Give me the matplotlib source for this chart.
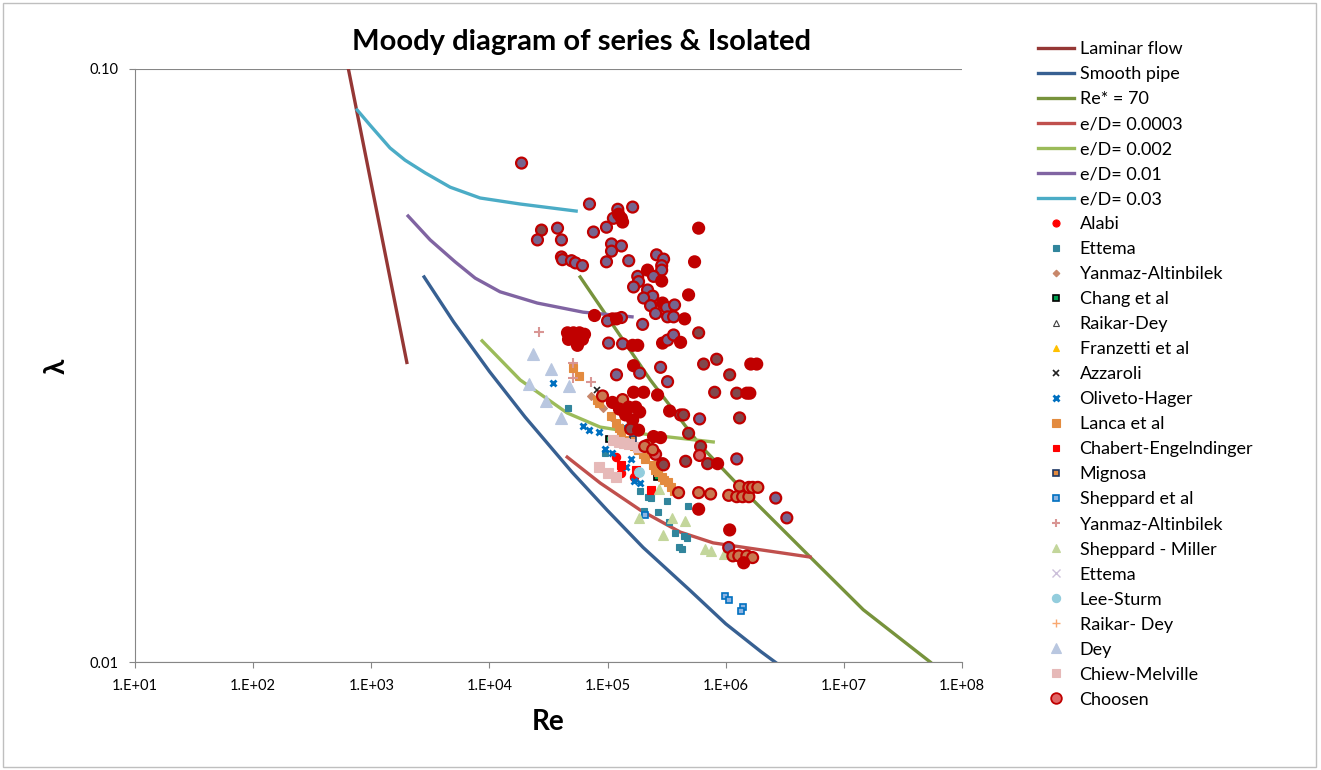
import matplotlib.pyplot as plt
from matplotlib.lines import Line2D
from matplotlib.patches import Rectangle
import numpy as np

plt.rcParams['font.family'] = ['Lato', 'DejaVu Sans']

# ---- reference curves (Re, lambda) ----
laminar_re = [600, 1000, 2000]
laminar_f = [0.1067, 0.064, 0.032]
smooth_re = [2800, 5000, 1e4, 2e4, 5e4, 1e5, 2e5, 5e5, 1e6, 2e6, 3e6]
smooth_f = [0.0446, 0.0374, 0.0309, 0.0259, 0.0209, 0.0180, 0.0156, 0.0132, 0.0116, 0.0104, 0.0098]
re70_re = [5.86e4, 2.30e5, 6.08e5, 1.33e6, 5.19e6, 1.46e7, 5.38e7]
re70_f = [0.0446, 0.0299, 0.0232, 0.0197, 0.01503, 0.01225, 0.0100]
ed0003_re = [4.55e4, 8.65e4, 1.89e5, 4.12e5, 7.84e5, 5.19e6]
ed0003_f = [0.02216, 0.02004, 0.01804, 0.01656, 0.01588, 0.01503]
ed002_re = [8.67e3, 1.82e4, 4.55e4, 8.65e4, 2.30e5, 7.84e5]
ed002_f = [0.0348, 0.0299, 0.0263, 0.0249, 0.02415, 0.0235]
ed01_re = [2.05e3, 3.15e3, 5.12e3, 7.57e3, 1.23e4, 2.54e4, 6.21e4, 1.61e5]
ed01_f = [0.0565, 0.0515, 0.0473, 0.0444, 0.0421, 0.0403, 0.0389, 0.0382]
ed03_re = [759, 977, 1.44e3, 1.93e3, 2.86e3, 4.65e3, 8.34e3, 1.82e4, 5.42e4]
ed03_f = [0.0853, 0.0804, 0.0736, 0.0702, 0.0668, 0.0632, 0.0606, 0.0592, 0.0576]

# ---- data series ----
alabi_re = [1.19e5, 1.31e5, 1.66e5]
alabi_f = [0.0222, 0.0208, 0.0205]
ettema_re = [4.58e4, 9.42e4, 1.87e5, 2.18e5, 2.31e5, 3.16e5, 4.76e5, 2.02e5, 2.65e5,
             3.29e5, 3.69e5, 4.40e5, 4.67e5, 3.99e5, 4.23e5]
ettema_f = [0.0268, 0.0225, 0.0194, 0.0190, 0.0189, 0.0187, 0.0183, 0.0180, 0.0179,
            0.0172, 0.0165, 0.0163, 0.0162, 0.0156, 0.0155]
yanmaz_re = [7.17e4, 9.06e4, 1.06e5]
yanmaz_f = [0.0281, 0.0268, 0.0259]
chang_re = [1.02e5, 2.60e5]
chang_f = [0.0238, 0.0205]
raikar_re = []
raikar_f = []
franzetti_re = []
franzetti_f = []
azzaroli_re = [8.06e4]
azzaroli_f = [0.0287]
oliveto_re = [3.42e4, 6.25e4, 7.03e4, 8.38e4, 9.60e4, 1.10e5, 1.37e5, 1.57e5, 1.42e5, 1.66e5, 1.87e5]
oliveto_f = [0.0296, 0.0250, 0.0246, 0.0244, 0.0229, 0.0225, 0.0249, 0.0220, 0.0213, 0.0202, 0.0200]
lanca_re = [5.14e4, 5.78e4, 8.21e4, 8.54e4, 1.06e5, 1.17e5, 1.24e5, 1.29e5, 1.42e5, 1.57e5, 1.66e5,
            1.80e5, 1.98e5, 2.06e5, 2.41e5, 2.50e5, 2.65e5, 2.87e5, 2.98e5, 3.22e5, 3.42e5, 3.62e5]
lanca_f = [0.0313, 0.0304, 0.0277, 0.0273, 0.0260, 0.0253, 0.0248, 0.0243, 0.0237, 0.0234, 0.0231,
           0.0228, 0.0224, 0.0220, 0.0215, 0.0211, 0.0209, 0.0205, 0.0203, 0.0201, 0.0197, 0.0194]
chabert_re = [1.29e5, 1.73e5, 2.31e5]
chabert_f = [0.0215, 0.0211, 0.0195]
mignosa_re = [1.63e5]
mignosa_f = [0.0238]
sheppard_re = [2.06e5, 9.79e5, 1.06e6, 1.39e6, 1.34e6]
sheppard_f = [0.0177, 0.0129, 0.0127, 0.0124, 0.0122]
yanmaz2_re = [2.65e4, 5.05e4, 5.05e4, 7.17e4]
yanmaz2_f = [0.0360, 0.0319, 0.0301, 0.0297]
shepmil_re = [2.70e5, 1.83e5, 3.48e5, 4.49e5, 2.92e5, 6.63e5, 7.45e5, 9.60e5]
shepmil_f = [0.0196, 0.0175, 0.0175, 0.0173, 0.0164, 0.0155, 0.0154, 0.0152]
ettema2_re = []
ettema2_f = []
leesturm_re = [1.83e5]
leesturm_f = [0.0209]
raikar2_re = []
raikar2_f = []
dey_re = [2.36e4, 3.35e4, 4.67e4, 2.18e4, 3.04e4, 4.07e4]
dey_f = [0.0331, 0.0312, 0.0292, 0.0294, 0.0275, 0.0258]
chiew_re = [1.12e5, 1.24e5, 1.37e5, 1.51e5, 1.80e5, 8.38e4, 1.00e5, 1.17e5]
chiew_f = [0.0237, 0.0235, 0.0234, 0.0233, 0.0230, 0.0213, 0.0208, 0.0205]

choosen_re = [1.87e4, 7.03e4, 1.22e5, 1.63e5, 1.12e5, 1.24e5, 1.31e5, 1.34e5, 3.77e4, 2.76e4,
              2.55e4, 4.07e4, 7.60e4, 9.79e4, 1.08e5, 1.31e5, 1.08e5, 4.07e4, 4.15e4, 4.95e4,
              5.35e4, 6.13e4, 9.79e4, 1.51e5, 2.60e5, 2.98e5, 2.18e5, 2.87e5, 2.87e5, 1.80e5,
              2.45e5, 2.87e5, 1.83e5, 1.66e5, 2.18e5, 2.41e5, 2.02e5, 2.31e5, 2.92e5, 3.16e5,
              3.69e5, 2.55e5, 3.22e5, 3.62e5, 4.49e5, 4.85e5, 5.90e5, 5.45e5, 5.90e5, 1.98e5,
              7.75e4, 1.10e5, 1.00e5, 1.31e5, 1.19e5, 4.58e4, 5.14e4, 5.78e4, 6.38e4, 4.67e4,
              5.35e4, 6.13e4, 5.56e4, 1.02e5, 1.34e5, 1.63e5, 1.80e5, 2.92e5, 3.22e5, 3.62e5,
              4.15e5, 1.19e5, 1.66e5, 1.87e5, 2.81e5, 3.22e5, 6.50e5, 8.38e5, 1.08e6, 1.63e6,
              1.83e6, 2.65e5, 8.06e5, 1.24e6, 1.51e6, 1.60e6, 3.35e5, 4.15e5, 4.40e5, 6.01e5,
              1.31e6, 4.85e5, 2.45e5, 2.81e5, 6.13e5, 6.01e5, 2.55e5, 2.92e5, 4.58e5, 7.03e5,
              8.54e5, 1.24e6, 3.99e5, 5.90e5, 7.45e5, 1.06e6, 1.24e6, 1.39e6, 1.57e6, 1.31e6,
              1.57e6, 1.69e6, 1.87e6, 2.65e6, 3.29e6, 5.90e5, 1.08e6, 1.06e6, 1.15e6, 1.29e6,
              1.51e6, 1.69e6, 1.42e6, 9.06e4, 1.10e5, 1.34e5, 1.26e5, 1.51e5, 1.73e5, 1.42e5,
              1.63e5, 1.87e5, 1.57e5, 1.83e5, 1.66e5, 2.02e5, 2.18e5, 2.06e5, 2.41e5, 2.98e5]
choosen_f = [0.0694, 0.0592, 0.0580, 0.0585, 0.0560, 0.0569, 0.0560, 0.0552, 0.0539, 0.0535,
             0.0515, 0.0515, 0.0531, 0.0541, 0.0507, 0.0503, 0.0493, 0.0482, 0.0477, 0.0475,
             0.0471, 0.0466, 0.0473, 0.0475, 0.0486, 0.0478, 0.0458, 0.0466, 0.0458, 0.0447,
             0.0447, 0.0439, 0.0438, 0.0429, 0.0424, 0.0414, 0.0411, 0.0399, 0.0403, 0.0396,
             0.0400, 0.0387, 0.0382, 0.0382, 0.0379, 0.0416, 0.0539, 0.0473, 0.0359, 0.0371,
             0.0384, 0.0379, 0.0376, 0.0381, 0.0379, 0.0359, 0.0359, 0.0359, 0.0357, 0.0350,
             0.0349, 0.0350, 0.0342, 0.0345, 0.0344, 0.0342, 0.0342, 0.0345, 0.0349, 0.0356,
             0.0346, 0.0305, 0.0316, 0.0307, 0.0314, 0.0297, 0.0318, 0.0324, 0.0305, 0.0318,
             0.0318, 0.0282, 0.0285, 0.0284, 0.0284, 0.0284, 0.0265, 0.0261, 0.0261, 0.0257,
             0.0258, 0.0243, 0.0240, 0.0239, 0.0231, 0.0223, 0.0224, 0.0216, 0.0218, 0.0216,
             0.0216, 0.0220, 0.0193, 0.0193, 0.0192, 0.0191, 0.0190, 0.0190, 0.0190, 0.0198,
             0.0197, 0.0197, 0.0197, 0.0189, 0.0175, 0.0181, 0.0167, 0.0156, 0.0151, 0.0151,
             0.0151, 0.0150, 0.0147, 0.0281, 0.0274, 0.0277, 0.0267, 0.0269, 0.0269, 0.0261,
             0.0256, 0.0264, 0.0247, 0.0246, 0.0285, 0.0285, 0.0232, 0.0231, 0.0228, 0.0215]
# what shows through each chosen circle: P purple, S solid, G grey, O orange, K pink
choosen_kind = list("PPPPPSSSPG"
                    "PPPPPPPPPP"
                    "PPPPPPSPPP"
                    "PSPPPPPPSP"
                    "PPPPSSSSGP"
                    "SSPPSSSSSS"
                    "SSSPPSSSPP"
                    "SPSPPPGGGS"
                    "SSGGSSSGGP"
                    "GGSSGKKGGG"
                    "SPOOOOOOOO"
                    "OOOPPSSPOO"
                    "OOSOSOSSSS"
                    "SSGSSSOOOG")

fig = plt.figure(figsize=(13.21, 7.70), dpi=100)
W, H = 1321, 770
ax = fig.add_axes([135 / W, 1 - 662 / H, (962 - 135) / W, (662 - 69) / H])
fig.patches.append(Rectangle((0.002, 0.004), 0.994, 0.992, transform=fig.transFigure,
                             fill=False, edgecolor='#BFBFBF', lw=1))

lw = 2.4
ax.plot(laminar_re, laminar_f, color='#953735', lw=lw, label='Laminar flow')
ax.plot(smooth_re, smooth_f, color='#376092', lw=lw, label='Smooth pipe')
ax.plot(re70_re, re70_f, color='#77933C', lw=lw, label='Re* = 70')
ax.plot(ed0003_re, ed0003_f, color='#C0504D', lw=lw, label='e/D= 0.0003')
ax.plot(ed002_re, ed002_f, color='#9BBB59', lw=lw, label='e/D= 0.002')
ax.plot(ed01_re, ed01_f, color='#8064A2', lw=lw, label='e/D= 0.01')
ax.plot(ed03_re, ed03_f, color='#4BACC6', lw=lw, label='e/D= 0.03')


def pts(x, y, label, marker, ms, fc, ec=None, mew=0.8):
    ax.plot(x, y, ls='none', marker=marker, ms=ms, mfc=fc,
            mec=fc if ec is None else ec, mew=mew, label=label)


pts(alabi_re, alabi_f, 'Alabi', 'o', 6, '#FF0000')
pts(ettema_re, ettema_f, 'Ettema', 's', 5, '#31859C')
pts(yanmaz_re, yanmaz_f, 'Yanmaz-Altinbilek', 'D', 4, '#C8876A')
pts(chang_re, chang_f, 'Chang et al', 's', 5, '#00A050', 'black', 1.2)
pts(raikar_re, raikar_f, 'Raikar-Dey', '^', 5, 'none', '#404040')
pts(franzetti_re, franzetti_f, 'Franzetti et al', '^', 5, '#FFC000')
pts(azzaroli_re, azzaroli_f, 'Azzaroli', 'x', 5, '#202020', '#202020', 1.2)
pts(oliveto_re, oliveto_f, 'Oliveto-Hager', 'x', 5, '#0070C0', '#0070C0', 2)
pts(lanca_re, lanca_f, 'Lanca et al', 's', 6, '#E38B3F')
pts(chabert_re, chabert_f, 'Chabert-Engelndinger', 's', 5.5, '#FF0000')
pts(mignosa_re, mignosa_f, 'Mignosa', 's', 5, '#E38B3F', '#1F3864', 1.2)
pts(sheppard_re, sheppard_f, 'Sheppard et al', 's', 5, '#8DB4E2', '#0070C0', 1.2)
pts(yanmaz2_re, yanmaz2_f, 'Yanmaz-Altinbilek', '+', 7, '#D99694', '#D99694', 1.5)
pts(shepmil_re, shepmil_f, 'Sheppard - Miller', '^', 7, '#C3D69B')
pts(ettema2_re, ettema2_f, 'Ettema', 'x', 6, '#CCC0DA', '#CCC0DA', 1)
pts(leesturm_re, leesturm_f, 'Lee-Sturm', 'o', 7, '#93CDDD')
pts(raikar2_re, raikar2_f, 'Raikar- Dey', '+', 7, '#F9A870', '#F9A870', 1)
pts(dey_re, dey_f, 'Dey', '^', 8, '#B9C7E0')
pts(chiew_re, chiew_f, 'Chiew-Melville', 's', 6.5, '#E6B9B8')

kind_colors = {'P': '#76648E', 'S': '#C00000', 'G': '#80484C', 'O': '#C87850', 'K': '#D06060'}
ax.scatter(choosen_re, choosen_f, s=62, c=[kind_colors[k] for k in choosen_kind],
           edgecolors='#C00000', linewidths=1.6, zorder=5)

handles, labels = ax.get_legend_handles_labels()
handles.append(Line2D([], [], ls='none', marker='o', ms=9, mfc='#E06666', mec='#C00000', mew=1.3))
labels.append('Choosen')
fig.legend(handles, labels, loc='upper left', bbox_to_anchor=(1038 / W, 1 - 41 / H),
           frameon=False, fontsize=13, labelspacing=0.50, handlelength=2.0,
           handletextpad=0.3, borderpad=0, borderaxespad=0, markerscale=0.85)

ax.set_xscale('log')
ax.set_yscale('log')
ax.set_xlim(10, 1e8)
ax.set_ylim(0.01, 0.1)
xt = [1e1, 1e2, 1e3, 1e4, 1e5, 1e6, 1e7, 1e8]
ax.set_xticks(xt)
ax.set_xticklabels(['1.E+%02d' % round(np.log10(v)) for v in xt])
ax.set_yticks([0.01, 0.1])
ax.set_yticklabels(['0.01', '0.10'])
ax.minorticks_off()
ax.tick_params(axis='both', labelsize=10.5, colors='#868686', labelcolor='black',
               length=4, width=0.8, direction='out')
ax.tick_params(axis='x', pad=8)
ax.tick_params(axis='y', pad=8)
for s in ['top', 'right']:
    ax.spines[s].set_visible(False)
for s in ['left', 'bottom']:
    ax.spines[s].set_color('#868686')
ax.yaxis.grid(True, color='#868686', lw=0.8)
ax.set_axisbelow(True)

fig.text(582 / W, 1 - 42 / H, 'Moody diagram of series & Isolated', ha='center', va='center',
         fontsize=21, fontweight='bold')
fig.text(548 / W, 1 - 722 / H, 'Re', ha='center', va='center', fontsize=20, fontweight='bold')
fig.text(57 / W, 1 - 366 / H, 'λ', ha='center', va='center', fontsize=20, fontweight='bold',
         rotation=90)

fig.savefig('out.png', dpi=100)
